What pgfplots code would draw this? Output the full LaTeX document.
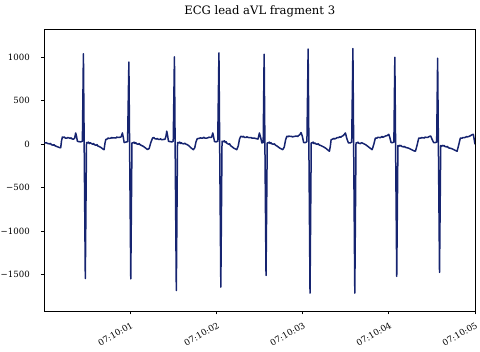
\documentclass[border=0pt]{standalone}
\usepackage{fontspec}
\setmainfont{DejaVu Serif}
\usepackage{pgfplots}
\pgfplotsset{compat=1.18}
\definecolor{ecg}{RGB}{22,36,112}
\begin{document}
\begin{tikzpicture}
\useasboundingbox (0,0) rectangle (480pt,352pt);
\begin{axis}[
  at={(44.5pt,41pt)}, anchor=south west,
  width=430.5pt, height=282pt, scale only axis,
  xmin=0, xmax=5, ymin=-1916, ymax=1325,
  axis line style={line width=0.8pt},
  tick align=outside, major tick length=3.5pt,
  xtick pos=left, ytick pos=left,
  tick style={line width=0.8pt, black},
  xtick={1,2,3,4,5},
  xticklabels={07:10:01,07:10:02,07:10:03,07:10:04,07:10:05},
  ytick={-1500,-1000,-500,0,500,1000},
  yticklabels={−1500,−1000,−500,0,500,1000},
  ticklabel style={font=\fontsize{8.6}{10}\selectfont},
  yticklabel style={inner sep=0pt, xshift=-11pt, anchor=east},
  xticklabel style={yshift=-7pt, rotate=30, anchor=north east, inner sep=0pt},
  title={ECG lead aVL fragment 3},
  title style={font=\fontsize{11.6}{13}\selectfont, at={(0.5,1)}, anchor=base, yshift=8pt},
]
\addplot[color=ecg, line width=1.5pt, line join=round] coordinates {
(0.000,15) (0.02,18) (0.04,8) (0.06,5) (0.07,10) (0.08,-5) (0.10,-10) (0.11,-4) (0.12,-15) (0.14,-25) (0.16,-32) (0.175,-38) (0.188,-40) (0.198,40) (0.208,84) (0.22,78) (0.23,85) (0.24,72) (0.26,70) (0.27,78) (0.28,75) (0.30,68) (0.31,74) (0.32,62) (0.335,58) (0.35,70) (0.362,130) (0.372,90) (0.382,35) (0.40,30) (0.42,28) (0.44,35)
(0.452,1040) (0.474,-1543) (0.488,20)
(0.50,15) (0.51,25) (0.52,8) (0.53,18) (0.54,12) (0.56,0) (0.57,8) (0.58,-5) (0.60,-12) (0.61,-4) (0.62,-20) (0.64,-28) (0.66,-40) (0.68,-55) (0.692,-62) (0.702,10) (0.712,55) (0.73,62) (0.74,72) (0.75,68) (0.77,70) (0.78,78) (0.79,72) (0.81,75) (0.83,72) (0.84,84) (0.85,78) (0.87,80) (0.89,85) (0.905,130) (0.915,80) (0.925,20) (0.945,25) (0.965,30)
(0.980,945) (1.002,-1546) (1.016,15)
(1.03,15) (1.04,24) (1.05,10) (1.06,18) (1.07,5) (1.09,0) (1.10,8) (1.11,-5) (1.13,-15) (1.15,-25) (1.17,-40) (1.195,-60) (1.215,-50) (1.235,20) (1.255,72) (1.27,78) (1.28,65) (1.30,60) (1.31,68) (1.32,58) (1.34,55) (1.35,63) (1.36,53) (1.38,55) (1.40,58) (1.41,90) (1.420,150) (1.43,100) (1.44,35) (1.46,30) (1.48,28) (1.495,35)
(1.509,1005) (1.531,-1681) (1.545,20)
(1.56,15) (1.57,25) (1.58,10) (1.59,18) (1.60,8) (1.62,5) (1.63,12) (1.64,3) (1.66,-5) (1.68,-20) (1.70,-40) (1.729,-62) (1.745,-40) (1.76,30) (1.775,65) (1.80,68) (1.81,75) (1.82,70) (1.84,72) (1.85,80) (1.86,72) (1.88,70) (1.90,75) (1.91,82) (1.92,78) (1.94,80) (1.955,130) (1.965,80) (1.975,30) (1.995,28) (2.012,35)
(2.026,1050) (2.048,-1642) (2.062,35)
(2.08,30) (2.09,40) (2.10,20) (2.11,28) (2.12,10) (2.14,0) (2.15,5) (2.16,-15) (2.18,-30) (2.20,-45) (2.233,-62) (2.25,-20) (2.265,60) (2.28,92) (2.30,85) (2.31,92) (2.32,80) (2.34,78) (2.35,86) (2.36,80) (2.38,75) (2.40,78) (2.41,70) (2.42,72) (2.44,70) (2.46,65) (2.48,60) (2.496,130) (2.51,80) (2.525,15) (2.54,20)
(2.551,1035) (2.573,-1508) (2.587,15)
(2.60,15) (2.61,25) (2.62,10) (2.63,18) (2.64,5) (2.66,0) (2.67,6) (2.68,-8) (2.70,-20) (2.72,-35) (2.74,-48) (2.767,-62) (2.785,-30) (2.80,50) (2.814,92) (2.83,88) (2.84,95) (2.85,90) (2.87,92) (2.88,84) (2.89,88) (2.91,92) (2.93,95) (2.94,88) (2.95,100) (2.965,110) (2.98,135) (2.995,90) (3.01,20) (3.03,20) (3.048,30)
(3.062,1095) (3.084,-1711) (3.098,15)
(3.11,15) (3.12,25) (3.13,8) (3.14,16) (3.15,5) (3.17,0) (3.18,6) (3.19,-8) (3.21,-15) (3.23,-25) (3.25,-35) (3.27,-48) (3.29,-65) (3.309,-80) (3.32,-20) (3.329,53) (3.35,60) (3.36,68) (3.37,62) (3.39,70) (3.40,78) (3.41,75) (3.43,85) (3.44,80) (3.45,90) (3.47,100) (3.483,115) (3.495,130) (3.51,70) (3.53,15) (3.55,15) (3.568,25)
(3.582,1100) (3.604,-1711) (3.618,15)
(3.63,15) (3.64,24) (3.65,12) (3.67,8) (3.68,18) (3.69,15) (3.71,5) (3.73,-5) (3.75,-20) (3.77,-35) (3.79,-50) (3.805,-62) (3.825,0) (3.843,72) (3.86,70) (3.87,80) (3.88,80) (3.90,75) (3.92,90) (3.93,80) (3.94,85) (3.96,95) (3.98,100) (3.999,115) (4.01,80) (4.025,20) (4.045,20) (4.058,25)
(4.069,1000) (4.091,-1519) (4.105,-15)
(4.115,-23) (4.125,-12) (4.13,-20) (4.14,-14) (4.15,-25) (4.17,-30) (4.18,-24) (4.19,-35) (4.21,-40) (4.23,-45) (4.25,-55) (4.27,-65) (4.29,-75) (4.308,-80) (4.325,-20) (4.347,72) (4.37,70) (4.38,78) (4.39,75) (4.41,72) (4.42,82) (4.43,80) (4.45,78) (4.47,90) (4.486,95) (4.50,60) (4.52,20) (4.54,20) (4.555,25)
(4.566,990) (4.588,-1473) (4.602,-15)
(4.61,-23) (4.62,-12) (4.63,-20) (4.64,-14) (4.65,-25) (4.67,-30) (4.68,-24) (4.69,-40) (4.71,-45) (4.73,-50) (4.75,-60) (4.77,-70) (4.792,-80) (4.81,-10) (4.830,72) (4.85,70) (4.86,78) (4.87,75) (4.89,80) (4.90,88) (4.91,85) (4.93,90) (4.95,100) (4.966,110) (4.98,115) (4.99,60) (5.0,0)
};
\end{axis}
\end{tikzpicture}
\end{document}
